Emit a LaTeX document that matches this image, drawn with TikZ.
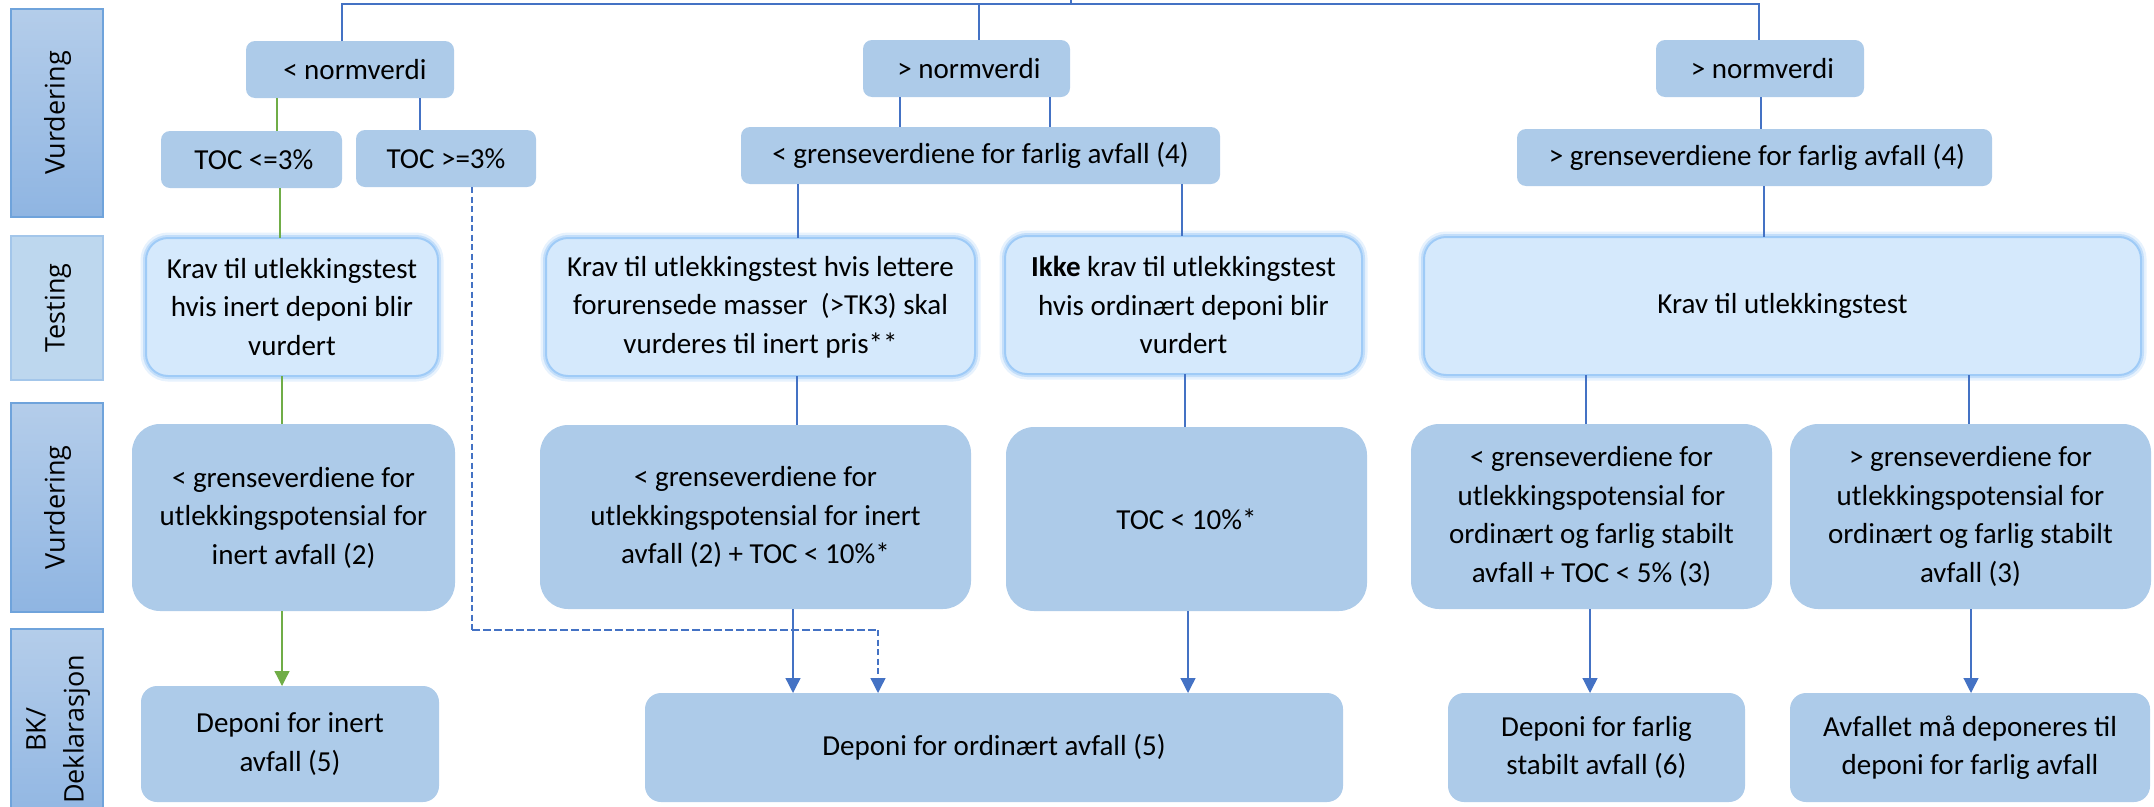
\documentclass[tikz,border=0pt]{standalone}
\usepackage{fontspec}
\usepackage{graphicx}
\setmainfont{Carlito}
\newfontfamily\sidefont{Open Sans}
\usetikzlibrary{arrows.meta}
\definecolor{linkblue}{HTML}{4472C4}
\definecolor{linkgreen}{HTML}{70AD47}
\definecolor{boxfill}{HTML}{ADCBE9}
\definecolor{testfill}{HTML}{D5E9FC}
\definecolor{glowc}{HTML}{9FCBF7}
\definecolor{sidetop}{HTML}{B4CDEA}
\definecolor{sidebot}{HTML}{8FB5E2}
\definecolor{sideedge}{HTML}{6FA3DB}
\definecolor{sidetest}{HTML}{BDD7EE}
\definecolor{sidetestedge}{HTML}{A3C6EA}
\newcommand{\sidelabel}[1]{\rotatebox{90}{\begin{tabular}{@{}c@{}}#1\end{tabular}}}
\begin{document}
\begin{tikzpicture}[x=1pt,y=-1pt,
  every node/.style={inner sep=0pt, outer sep=0pt, align=center,
    font=\fontsize{29}{38.5}\selectfont},
  smallbox/.style={fill=boxfill, rounded corners=9pt},
  evalbox/.style={fill=boxfill, rounded corners=28pt},
  depbox/.style={fill=boxfill, rounded corners=16pt},
  testbox/.style={fill=testfill, rounded corners=22pt, draw=glowc, line width=2pt,
    preaction={draw=glowc, line width=11pt, draw opacity=0.25},
    preaction={draw=glowc, line width=6pt, draw opacity=0.5}},
  sidebox/.style={draw=sideedge, line width=1.5pt,
    top color=sidetop, bottom color=sidebot,
    font=\sidefont\fontsize{27}{38}\selectfont},
  sidetestbox/.style={draw=sidetestedge, line width=1.5pt, fill=sidetest,
    font=\sidefont\fontsize{27}{38}\selectfont},
  conn/.style={draw=linkblue, line width=1.3pt},
  gconn/.style={draw=linkgreen, line width=1.3pt},
  dconn/.style={draw=linkblue, line width=1.3pt, dash pattern=on 6pt off 3.5pt},
  dconnthick/.style={draw=linkblue, line width=2.6pt, dash pattern=on 8pt off 3pt},
  arr/.style={-{Triangle[width=15pt,length=15pt]}}
]
\useasboundingbox (0,0) rectangle (2154,806);

% side labels
\node[sidebox, minimum width=92pt, minimum height=208pt] (s1) at (57,113) {\sidelabel{Vurdering}};
\node[sidetestbox, minimum width=92pt, minimum height=144pt] (s2) at (57,308) {\sidelabel{Testing}};
\node[sidebox, minimum width=92pt, minimum height=209pt] (s3) at (57,507.5) {\sidelabel{Vurdering}};
\node[sidebox, minimum width=92pt, minimum height=201pt] (s4) at (57,729.5) {\sidelabel{BK/\\Deklarasjon}};

% row 1
\node[smallbox, minimum width=208pt, minimum height=57pt] (n1L) at (350,69.5) {\,\,< normverdi};
\node[smallbox, minimum width=207pt, minimum height=57pt] (n1M) at (966.5,68.5) {\,> normverdi};
\node[smallbox, minimum width=208pt, minimum height=57pt] (n1R) at (1760,68.5) {\,> normverdi};

% row 2
\node[smallbox, minimum width=181pt, minimum height=57pt] (n2a) at (251.5,159.5) {\,TOC <=3\%};
\node[smallbox, minimum width=180pt, minimum height=57pt] (n2b) at (446,158.5) {TOC >=3\%};
\node[smallbox, minimum width=479pt, minimum height=57pt] (n2M) at (980.5,155.5) {< grenseverdiene for farlig avfall (4)};
\node[smallbox, minimum width=475pt, minimum height=57pt] (n2R) at (1754.5,157.5) {\,> grenseverdiene for farlig avfall (4)};

% testing row
\node[testbox, minimum width=292pt, minimum height=138pt] (t1) at (292,307)
  {Krav til utlekkingstest\\hvis inert deponi blir\\vurdert};
\node[testbox, minimum width=429pt, minimum height=138pt] (t2) at (760.5,307)
  {Krav til utlekkingstest hvis lettere\\forurensede masser\ \ (>TK3) skal\\vurderes til inert pris**};
\node[testbox, minimum width=357pt, minimum height=138pt] (t3) at (1183.5,305)
  {\textbf{Ikke} krav til utlekkingstest\\hvis ordinært deponi blir\\vurdert};
\node[testbox, minimum width=717pt, minimum height=138pt] (t4) at (1782.5,306)
  {Krav til utlekkingstest};

% evaluation row
\node[evalbox, minimum width=323pt, minimum height=187pt] (v1) at (293.5,517.5)
  {< grenseverdiene for\\utlekkingspotensial for\\inert avfall (2)};
\node[evalbox, minimum width=431pt, minimum height=184pt] (v2) at (755.5,517)
  {< grenseverdiene for\\utlekkingspotensial for inert\\avfall (2) + TOC < 10\%*};
\node[evalbox, minimum width=361pt, minimum height=184pt] (v3) at (1186.5,519)
  {TOC < 10\%*};
\node[evalbox, minimum width=361pt, minimum height=185pt] (v4) at (1591.5,516.5)
  {< grenseverdiene for\\utlekkingspotensial for\\ordinært og farlig stabilt\\avfall + TOC < 5\% (3)};
\node[evalbox, minimum width=361pt, minimum height=185pt] (v5) at (1970.5,516.5)
  {> grenseverdiene for\\utlekkingspotensial for\\ordinært og farlig stabilt\\avfall (3)};

% deposit row
\node[depbox, minimum width=298pt, minimum height=116pt] (d1) at (290,744)
  {Deponi for inert\\avfall (5)};
\node[depbox, minimum width=698pt, minimum height=109pt] (d2) at (994,747.5)
  {Deponi for ordinært avfall (5)};
\node[depbox, minimum width=297pt, minimum height=109pt] (d3) at (1596.5,747.5)
  {Deponi for farlig\\stabilt avfall (6)};
\node[depbox, minimum width=360pt, minimum height=109pt] (d4) at (1970,747.5)
  {Avfallet må deponeres til\\deponi for farlig avfall};

% top bracket
\coordinate (topL) at (342,4);
\coordinate (topM) at (979,4);
\coordinate (topR) at (1759,4);
\coordinate (stub) at (1071,0);
\draw[conn] (n1L.north -| topL) -- (topL) -- (topR) -- (n1R.north -| topR);
\draw[conn] (topM) -- (n1M.north -| topM);
\draw[conn] (stub) -- (stub |- topL);

% left branch
\draw[gconn] (n1L.south -| 277,0) -- (n2a.north -| 277,0);
\draw[conn] (n1L.south -| 420,0) -- (n2b.north -| 420,0);
\draw[gconn] (n2a.south -| 280,0) -- (t1.north -| 280,0);
\draw[gconn] (t1.south -| 282,0) -- (v1.north -| 282,0);
\draw[gconn, arr] (v1.south -| 282,0) -- (d1.north -| 282,0);

% dashed route
\coordinate (dA) at (472,630);
\coordinate (dB) at (878,630);
\draw[dconn] (n2b.south -| dA) -- (dA);
\draw[dconnthick] (dA) -- (dB);
\draw[dconn, arr] (dB) -- (d2.north -| dB);

% middle branch
\draw[conn] (n1M.south -| 900,0) -- (n2M.north -| 900,0);
\draw[conn] (n1M.south -| 1050,0) -- (n2M.north -| 1050,0);
\draw[conn] (n2M.south -| 798,0) -- (t2.north -| 798,0);
\draw[conn] (n2M.south -| 1182,0) -- (t3.north -| 1182,0);
\draw[conn] (t2.south -| 797,0) -- (v2.north -| 797,0);
\draw[conn] (t3.south -| 1185,0) -- (v3.north -| 1185,0);
\draw[conn, arr] (v2.south -| 793,0) -- (d2.north -| 793,0);
\draw[conn, arr] (v3.south -| 1188,0) -- (d2.north -| 1188,0);

% right branch
\draw[conn] (n1R.south -| 1761,0) -- (n2R.north -| 1761,0);
\draw[conn] (n2R.south -| 1764,0) -- (t4.north -| 1764,0);
\draw[conn] (t4.south -| 1586,0) -- (v4.north -| 1586,0);
\draw[conn] (t4.south -| 1969,0) -- (v5.north -| 1969,0);
\draw[conn, arr] (v4.south -| 1590,0) -- (d3.north -| 1590,0);
\draw[conn, arr] (v5.south -| 1971,0) -- (d4.north -| 1971,0);
\end{tikzpicture}
\end{document}
